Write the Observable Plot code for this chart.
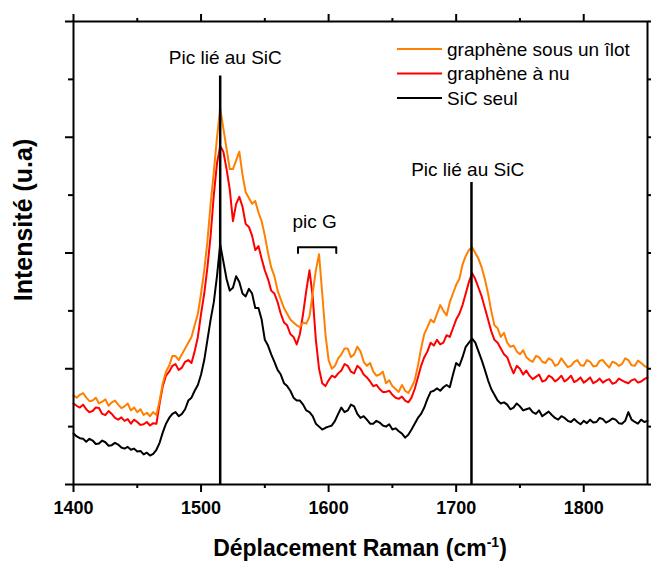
<!DOCTYPE html>
<html><head><meta charset="utf-8">
<script src="https://cdn.jsdelivr.net/npm/d3@7"></script>
<script src="https://cdn.jsdelivr.net/npm/@observablehq/plot@0.6"></script>
<style>body{margin:0;background:#fff}</style>
</head><body><div id="chart"></div>
<script>
// Raman shift sampling grid (cm-1), every 2.5 cm-1 from 1400 to 1850
const wavenumbers = d3.range(1400, 1850.1, 2.5);

const sicSeul = [
  0.88,0.83,0.80,0.79,0.74,0.79,0.76,0.70,0.71,0.76,0.73,0.67,0.68,0.72,0.69,0.64,0.62,0.65,0.60,0.62,
  0.57,0.58,0.52,0.55,0.50,0.53,0.60,0.72,0.90,1.05,1.15,1.22,1.25,1.18,1.22,1.30,1.45,1.50,1.62,1.72,
  1.90,2.15,2.50,2.85,3.15,3.60,4.15,3.85,3.55,3.35,3.40,3.60,3.50,3.30,3.25,3.38,3.30,3.05,3.05,2.85,
  2.50,2.40,2.25,2.12,1.98,1.90,1.75,1.70,1.62,1.50,1.45,1.45,1.38,1.28,1.25,1.18,1.05,1.00,0.95,0.98,
  1.00,1.02,1.10,1.22,1.33,1.25,1.28,1.38,1.35,1.22,1.15,1.18,1.12,1.05,1.05,1.10,1.07,1.02,1.00,1.04,
  0.95,0.97,0.92,0.88,0.81,0.86,0.95,1.05,1.15,1.22,1.33,1.48,1.60,1.62,1.66,1.62,1.68,1.72,1.68,1.90,
  2.10,2.05,2.20,2.38,2.45,2.52,2.45,2.30,2.15,1.98,1.80,1.65,1.55,1.45,1.40,1.42,1.38,1.30,1.33,1.40,
  1.35,1.28,1.30,1.32,1.25,1.22,1.28,1.18,1.22,1.26,1.20,1.15,1.12,1.18,1.15,1.10,1.08,1.13,1.08,1.04,
  1.10,1.06,1.12,1.07,1.08,1.15,1.13,1.07,1.10,1.14,1.12,1.06,1.05,1.10,1.25,1.12,1.08,1.05,1.12,1.08,
  1.10];

const grapheneNu = [
  1.40,1.36,1.33,1.38,1.30,1.25,1.27,1.33,1.32,1.22,1.20,1.27,1.22,1.15,1.12,1.16,1.10,1.13,1.05,1.12,
  1.08,1.03,1.04,1.08,1.02,1.06,1.05,1.40,1.70,1.88,1.95,2.05,2.08,1.98,2.02,2.12,2.15,2.10,2.30,2.55,
  2.95,3.30,3.75,4.30,5.00,5.55,5.85,5.75,5.45,5.10,4.55,4.85,4.97,4.80,4.50,4.45,4.30,4.05,4.12,3.90,
  3.70,3.55,3.35,3.30,3.15,2.95,2.80,2.75,2.60,2.55,2.42,2.60,2.95,3.35,3.70,3.25,2.50,2.00,1.75,1.70,
  1.80,1.88,1.85,1.92,1.97,2.08,2.05,1.95,1.92,2.05,2.00,1.90,1.85,1.78,1.70,1.72,1.65,1.60,1.60,1.62,
  1.55,1.50,1.48,1.52,1.45,1.42,1.50,1.65,1.85,2.05,2.20,2.30,2.45,2.40,2.50,2.42,2.45,2.58,2.55,2.70,
  2.85,2.95,3.10,3.30,3.50,3.65,3.55,3.40,3.25,3.05,2.85,2.65,2.50,2.45,2.35,2.25,2.20,2.05,1.92,2.05,
  2.00,1.90,1.97,1.88,1.82,1.86,1.90,1.78,1.80,1.88,1.85,1.78,1.82,1.88,1.78,1.82,1.88,1.77,1.80,1.85,
  1.76,1.80,1.85,1.75,1.78,1.83,1.76,1.80,1.82,1.74,1.76,1.83,1.80,1.77,1.75,1.80,1.82,1.76,1.78,1.82,
  1.85];

const grapheneIlot = [
  1.54,1.50,1.55,1.58,1.50,1.44,1.45,1.50,1.40,1.43,1.47,1.36,1.42,1.45,1.38,1.32,1.35,1.40,1.28,1.33,
  1.25,1.30,1.20,1.24,1.18,1.25,1.20,1.45,1.75,1.95,2.05,2.22,2.22,2.15,2.25,2.35,2.45,2.55,2.75,2.95,
  3.30,3.70,4.20,4.85,5.40,6.00,6.50,6.15,5.80,5.45,5.45,5.60,5.75,5.35,5.05,4.95,4.85,4.90,4.70,4.55,
  4.30,4.00,3.75,3.60,3.35,3.20,3.05,2.95,2.85,2.80,2.75,2.72,2.80,2.78,2.90,3.30,3.70,3.98,3.30,2.60,
  2.15,2.00,2.05,2.18,2.25,2.35,2.35,2.20,2.25,2.38,2.30,2.12,2.05,2.10,1.95,1.88,1.90,1.95,1.75,1.80,
  1.70,1.65,1.60,1.72,1.62,1.58,1.68,1.80,2.05,2.35,2.60,2.72,2.85,2.80,2.95,3.10,3.00,2.92,3.15,3.30,
  3.45,3.55,3.80,3.95,4.05,4.10,4.00,3.90,3.75,3.55,3.30,3.00,2.75,2.70,2.55,2.62,2.45,2.38,2.40,2.30,
  2.25,2.32,2.20,2.15,2.12,2.22,2.20,2.12,2.10,2.18,2.15,2.05,2.08,2.18,2.10,2.03,2.05,2.12,2.15,2.06,
  2.05,2.15,2.12,2.04,2.05,2.14,2.15,2.08,2.02,2.12,2.10,2.05,2.08,2.18,2.15,2.06,2.05,2.14,2.10,2.05,
  2.02];

const seriesNames = ["graphène sous un îlot", "graphène à nu", "SiC seul"];
const seriesColors = ["#ff8000", "#ff0000", "#000000"];

const xMajorTicks = [1400,1500,1600,1700,1800];
const xMinorTicks = [1450,1550,1650,1750];
const yMajorTicks = [0,2,4,6,8];
const yMinorTicks = [1,3,5,7];

const peakMarkers = [{x:1515, top:7.06}, {x:1712, top:5.22}];
const annotations = [
  {text:"Pic lié au SiC", x:1519, y:7.37},
  {text:"Pic lié au SiC", x:1709, y:5.43},
  {text:"pic G", x:1589, y:4.53}
];
const bracketG = [{x:1576,y:4.0},{x:1576,y:4.1},{x:1606,y:4.1},{x:1606,y:4.0}];

const mk = (ys) => wavenumbers.map((x,i) => ({x, y: ys[i]}));
const dataBlack = mk(sicSeul), dataRed = mk(grapheneNu), dataOrange = mk(grapheneIlot);

const blank = () => "";
const plain = d => String(d);
const chart = Plot.plot({
  width: 651, height: 561,
  marginLeft: 73, marginRight: 4, marginTop: 21, marginBottom: 77,
  style: {fontFamily: "'Liberation Sans', Arial, sans-serif", background: "#fff", color: "#000", overflow: "visible"},
  x: {domain: [1400,1850], label: null},
  y: {domain: [0,8], label: null},
  marks: [
    Plot.axisX(xMajorTicks, {anchor:"bottom", tickSize:8, tickPadding:9, tickFormat:plain, fontSize:18, fontWeight:"bold", strokeWidth:2, label:null}),
    Plot.axisX(xMinorTicks, {anchor:"bottom", tickSize:4, tickFormat:blank, strokeWidth:2, label:null}),
    Plot.axisX(xMajorTicks, {anchor:"top", tickSize:8, tickFormat:blank, strokeWidth:2, label:null}),
    Plot.axisX(xMinorTicks, {anchor:"top", tickSize:4, tickFormat:blank, strokeWidth:2, label:null}),
    Plot.axisY(yMajorTicks, {anchor:"left", tickSize:8, tickFormat:blank, strokeWidth:2, label:null}),
    Plot.axisY(yMinorTicks, {anchor:"left", tickSize:5, tickFormat:blank, strokeWidth:2, label:null}),
    Plot.axisY(yMajorTicks, {anchor:"right", tickSize:8, tickFormat:blank, strokeWidth:2, label:null}),
    Plot.axisY(yMinorTicks, {anchor:"right", tickSize:5, tickFormat:blank, strokeWidth:2, label:null}),
    Plot.line(dataBlack, {x:"x", y:"y", stroke: seriesColors[2], strokeWidth:2}),
    Plot.line(dataRed, {x:"x", y:"y", stroke: seriesColors[1], strokeWidth:2}),
    Plot.line(dataOrange, {x:"x", y:"y", stroke: seriesColors[0], strokeWidth:2}),
    Plot.ruleX(peakMarkers, {x:"x", y1:0, y2:"top", stroke:"#000", strokeWidth:2.5}),
    Plot.line(bracketG, {x:"x", y:"y", stroke:"#000", strokeWidth:2}),
    Plot.text(annotations, {x:"x", y:"y", text:"text", fontSize:19, fill:"#000"}),
    Plot.frame({stroke:"#000", strokeWidth:2})
  ]
});
document.getElementById("chart").appendChild(chart);

const svg = d3.select(chart);
const FF = "'Liberation Sans', Arial, sans-serif";
// y axis title
svg.append("text")
  .attr("transform", "translate(32,220) rotate(-90)")
  .attr("text-anchor", "middle")
  .attr("font-size", 25).attr("font-weight", "bold")
  .attr("font-family", FF)
  .text("Intensité (u.a)");
// x axis title
const xt = svg.append("text")
  .attr("x", 360).attr("y", 556)
  .attr("text-anchor", "middle")
  .attr("font-size", 23).attr("font-weight", "bold")
  .attr("font-family", FF);
xt.append("tspan").text("Déplacement Raman (cm");
xt.append("tspan").attr("dy", -9).attr("font-size", 14).text("-1");
xt.append("tspan").attr("dy", 9).text(")");
// legend
const lg = svg.append("g").attr("font-family", FF).attr("text-anchor", "start");
seriesNames.forEach((name, i) => {
  const yy = 49 + i * 24.5;
  lg.append("line").attr("x1", 397).attr("x2", 442).attr("y1", yy).attr("y2", yy)
    .attr("stroke", seriesColors[i]).attr("stroke-width", 2);
  lg.append("text").attr("x", 447).attr("y", yy).attr("dy", "0.35em")
    .attr("text-anchor", "start")
    .attr("font-size", 19).text(name);
});
</script>
</body></html>
